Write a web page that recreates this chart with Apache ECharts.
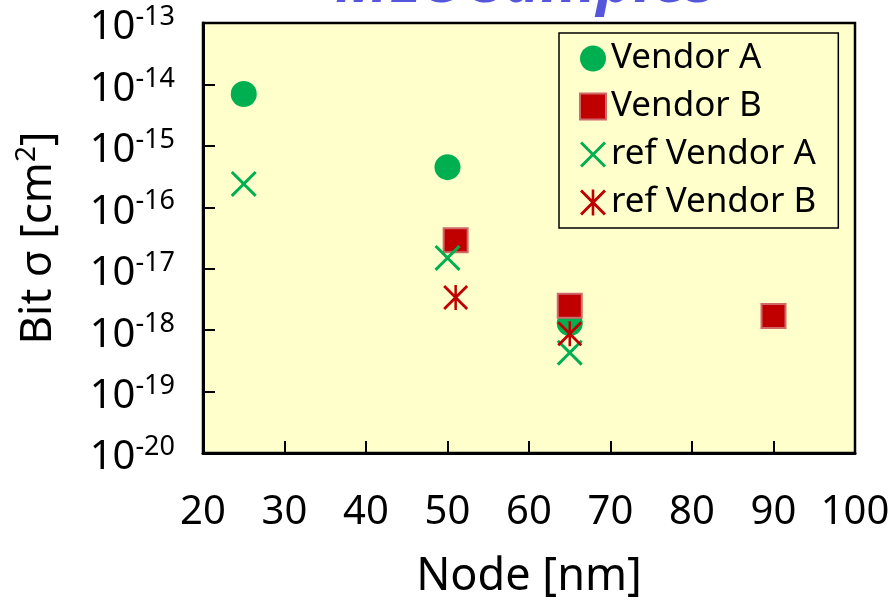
<!DOCTYPE html>
<html>
<head>
<meta charset="utf-8">
<script src="https://cdn.jsdelivr.net/npm/echarts@6/dist/echarts.min.js"></script>
<style>
html,body{margin:0;padding:0;background:#fff;}
#chart{width:893px;height:607px;}
</style>
</head>
<body>
<div id="chart"></div>
<script>
// ---- data ----
const seriesNames = ['Vendor A', 'Vendor B', 'ref Vendor A', 'ref Vendor B'];
const vendorA_x = [25, 50, 65];
const vendorA_y = [7e-15, 4.5e-16, 1.3e-18];
const vendorB_x = [51, 65, 90];
const vendorB_y = [2.9e-17, 2.5e-18, 1.7e-18];
const refA_x = [25, 50, 65];
const refA_y = [2.4e-16, 1.5e-17, 4.3e-19];
const refB_x = [51, 65];
const refB_y = [3.4e-18, 8.7e-19];
const xTicks = [20, 30, 40, 50, 60, 70, 80, 90, 100];
const yExponents = [-20, -19, -18, -17, -16, -15, -14, -13];
const titleText = 'MLC samples';

const pairs = (xs, ys) => xs.map((x, i) => [x, ys[i]]);

const GREEN = '#00B050';
const RED = '#C00000';
const FONT = 'Noto Sans';
const crossPath = 'path://M0,8 L8,0 L50,42 L92,0 L100,8 L58,50 L100,92 L92,100 L50,58 L8,100 L0,92 L42,50 Z';
const starPath = 'path://M0,8 L8,0 L50,42 L92,0 L100,8 L58,50 L100,92 L92,100 L50,58 L8,100 L0,92 L42,50 Z M45,0 L55,0 L55,100 L45,100 Z';

const chart = echarts.init(document.getElementById('chart'), null, {renderer: 'canvas'});
chart.setOption({
  backgroundColor: '#ffffff',
  animation: false,
  textStyle: {fontFamily: FONT},
  title: {
    text: titleText,
    left: 330,
    top: -52,
    textStyle: {fontFamily: FONT, fontSize: 62, fontStyle: 'italic', fontWeight: 'bold', color: '#5656DC'}
  },
  grid: {
    left: 203, right: 38, top: 23, bottom: 154,
    show: true, backgroundColor: '#FFFFCC', borderColor: '#000', borderWidth: 2.5
  },
  legend: {
    data: seriesNames,
    orient: 'vertical',
    left: 559, top: 33,
    backgroundColor: '#FFFFCC',
    borderColor: '#000', borderWidth: 1.5,
    padding: [8, 22, 8, 20],
    itemWidth: 26, itemHeight: 26, itemGap: 13,
    textStyle: {fontFamily: FONT, fontSize: 35, color: '#000'}
  },
  xAxis: {
    type: 'value', min: xTicks[0], max: xTicks[xTicks.length - 1], interval: 10,
    name: 'Node [nm]', nameLocation: 'middle', nameGap: 102,
    nameTextStyle: {fontFamily: FONT, fontSize: 45, color: '#000'},
    axisLine: {show: true, onZero: false, lineStyle: {color: '#000', width: 3}},
    axisTick: {show: true, inside: true, length: 12, lineStyle: {color: '#000', width: 2}},
    axisLabel: {margin: 40, fontFamily: FONT, fontSize: 40, color: '#000'},
    splitLine: {show: false}
  },
  yAxis: {
    type: 'log', logBase: 10,
    min: Math.pow(10, yExponents[0]), max: Math.pow(10, yExponents[yExponents.length - 1]), interval: 1,
    name: 'Bit σ [cm{s|2}]', nameLocation: 'middle', nameGap: 140, nameRotate: 90,
    nameTextStyle: {fontFamily: FONT, fontSize: 44, lineHeight: 50, color: '#000',
      rich: {s: {fontFamily: FONT, fontSize: 28, lineHeight: 28, verticalAlign: 'top', color: '#000'}}},
    axisLine: {show: true, lineStyle: {color: '#000', width: 3}},
    axisTick: {show: true, inside: true, length: 12, lineStyle: {color: '#000', width: 2}},
    minorTick: {show: false},
    splitLine: {show: false},
    axisLabel: {
      margin: 28,
      padding: [10, 0, 0, 0],
      formatter: v => '{b|10}{s|' + Math.round(Math.log10(v)) + '}',
      rich: {
        b: {fontFamily: FONT, fontSize: 40, lineHeight: 48, color: '#000'},
        s: {fontFamily: FONT, fontSize: 27, lineHeight: 27, verticalAlign: 'top', color: '#000'}
      }
    }
  },
  series: [
    {name: seriesNames[0], type: 'scatter', symbol: 'circle', symbolSize: 26,
     itemStyle: {color: GREEN, opacity: 1}, data: pairs(vendorA_x, vendorA_y)},
    {name: seriesNames[1], type: 'scatter', symbol: 'rect', symbolSize: 24,
     itemStyle: {color: RED, borderColor: '#D06A6A', borderWidth: 2, opacity: 1}, data: pairs(vendorB_x, vendorB_y)},
    {name: seriesNames[2], type: 'scatter', symbol: crossPath, symbolSize: 26,
     itemStyle: {color: GREEN, opacity: 1}, data: pairs(refA_x, refA_y)},
    {name: seriesNames[3], type: 'scatter', symbol: starPath, symbolSize: 25,
     itemStyle: {color: RED, opacity: 1}, data: pairs(refB_x, refB_y)}
  ]
});
</script>
</body>
</html>
